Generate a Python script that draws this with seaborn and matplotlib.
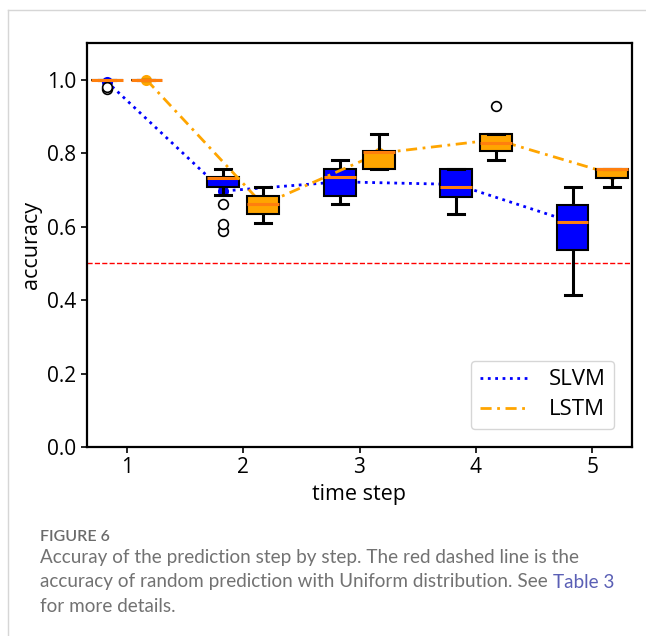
import numpy as np
import pandas as pd
import matplotlib.pyplot as plt
import seaborn as sns
from matplotlib.lines import Line2D

steps = ["1", "2", "3", "4", "5"]
models = ["SLVM", "LSTM"]

# accuracy samples per time step
slvm_acc = [
    [0.975, 0.98, 1.0, 1.0, 1.0, 1.0, 1.0, 1.0, 1.0],
    [0.587, 0.608, 0.661, 0.685, 0.708, 0.715, 0.722, 0.728, 0.732,
     0.733, 0.733, 0.734, 0.734, 0.740, 0.748, 0.752, 0.757],
    [0.661, 0.684, 0.734, 0.757, 0.782],
    [0.635, 0.682, 0.709, 0.757, 0.758],
    [0.414, 0.537, 0.612, 0.659, 0.708],
]
lstm_acc = [
    [1.0, 1.0, 1.0, 1.0, 1.0],
    [0.611, 0.635, 0.661, 0.684, 0.709],
    [0.757, 0.757, 0.804, 0.807, 0.853],
    [0.782, 0.795, 0.806, 0.815, 0.829, 0.840, 0.853, 0.853, 0.929],
    [0.708, 0.732, 0.757, 0.757, 0.757],
]
# mean accuracy (the connected points)
slvm_mean = [0.995, 0.697, 0.722, 0.715, 0.612]
lstm_mean = [1.0, 0.660, 0.800, 0.837, 0.743]
random_acc = 0.5

caption_title = "FIGURE 6"
caption_lines = [
    "Accuray of the prediction step by step. The red dashed line is the",
    "accuracy of random prediction with Uniform distribution. See",
    "for more details.",
]
caption_link = "Table 3"

rows = []
for model, samples in zip(models, [slvm_acc, lstm_acc]):
    for step, vals in zip(steps, samples):
        for v in vals:
            rows.append({"step": step, "model": model, "accuracy": v})
df = pd.DataFrame(rows)

plt.rcParams["font.family"] = ["Open Sans", "DejaVu Sans"]

fig = plt.figure(figsize=(6.46, 6.36), dpi=100)
ax = fig.add_axes([87 / 646, 1 - 447 / 636, 545 / 646, 404 / 636])

ax.axhline(random_acc, color="red", linestyle="--", linewidth=1, zorder=0.5)

sns.boxplot(
    data=df, x="step", y="accuracy", hue="model",
    order=steps, hue_order=models,
    palette={"SLVM": "blue", "LSTM": "orange"}, saturation=1,
    width=0.68, gap=0.2, linecolor="black", linewidth=1.5,
    whiskerprops=dict(linewidth=2.2), capprops=dict(linewidth=2.2),
    medianprops=dict(color="#ff7f0e", linewidth=2.2),
    flierprops=dict(marker="o", markerfacecolor="white",
                    markeredgecolor="black", markersize=7, markeredgewidth=1.2),
    legend=False, ax=ax,
)

# blue boxes under the orange line, orange boxes on top
for cont, z in zip(ax.containers, [2, 4]):
    for group in (cont.boxes, cont.whiskers, cont.caps, cont.fliers):
        for a in group:
            a.set_zorder(z)
    for a in cont.medians:
        a.set_zorder(z + 0.1)

xs = np.arange(len(steps))
sns.lineplot(x=xs - 0.17, y=slvm_mean, color="blue", linestyle=":",
             linewidth=2, marker="o", markersize=8, markeredgewidth=0,
             zorder=1.5, ax=ax)
sns.lineplot(x=xs + 0.17, y=lstm_mean, color="orange",
             dashes=(4, 2, 1, 2), linewidth=2, marker="o", markersize=8,
             markeredgewidth=0, zorder=3, ax=ax)

ax.set_xlim(-0.34, 4.34)
ax.set_ylim(0, 1.1)
ax.set_xticks(xs)
ax.set_xticklabels(steps)
ax.set_yticks(np.arange(0, 1.01, 0.2))
ax.set_yticklabels([f"{t:.1f}" for t in np.arange(0, 1.01, 0.2)])
ax.tick_params(labelsize=15, width=1.2, length=4)
ax.set_xlabel("time step", fontsize=15.5)
ax.set_ylabel("accuracy", fontsize=15.5)
for s in ax.spines.values():
    s.set_linewidth(1.6)

handles = [
    Line2D([], [], color="blue", linestyle=":", linewidth=2),
    Line2D([], [], color="orange", dashes=(4, 2, 1, 2), linewidth=2),
]
ax.legend(handles, models, loc="lower right", fontsize=16,
          handlelength=2.2, handletextpad=0.9, borderaxespad=0.8,
          labelspacing=0.4, edgecolor="#cccccc")

# card border of the screenshot
fig.add_artist(Line2D([8 / 646, 1], [1 - 10 / 636] * 2,
                      transform=fig.transFigure, color="#d6d6d6", lw=1))
fig.add_artist(Line2D([8 / 646, 8 / 646], [0, 1 - 10 / 636],
                      transform=fig.transFigure, color="#d6d6d6", lw=1))

fig.text(40 / 646, 1 - 537 / 636, caption_title, fontsize=11.5,
         color="#6b6b6b", fontweight="semibold", va="center",
         family=["Lato", "DejaVu Sans"])
line_objs = []
for i, line in enumerate(caption_lines):
    t = fig.text(40 / 646, 1 - (558 + 24 * i) / 636, line, fontsize=13.6,
                 color="#727272", va="center", family=["Lato", "DejaVu Sans"])
    line_objs.append(t)
ax.annotate(caption_link, xy=(1, 0.5), xycoords=line_objs[1],
            xytext=(4, 0), textcoords="offset points", va="center",
            fontsize=13.6, color="#5a5fb5", family=["Lato", "DejaVu Sans"],
            annotation_clip=False)

fig.savefig("out.png", dpi=100)
